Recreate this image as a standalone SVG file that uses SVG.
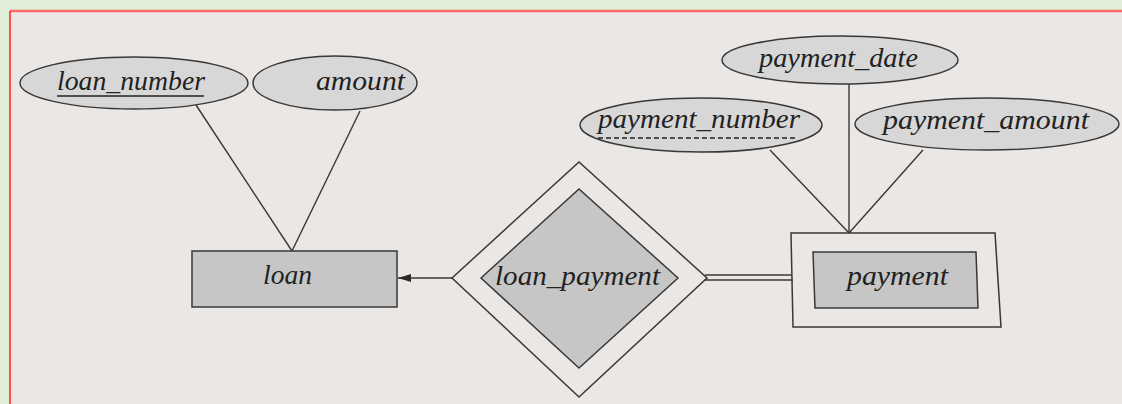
<svg xmlns="http://www.w3.org/2000/svg" width="1122" height="404" viewBox="0 0 1122 404">
  <style>
    .attr { fill: #d8d7d7; stroke: #383838; stroke-width: 1.5; }
    .ent { fill: #c7c6c6; stroke: #383838; stroke-width: 1.5; }
    .weak { fill: none; stroke: #383838; stroke-width: 1.5; }
    .lbl { font-family: "Liberation Serif", "DejaVu Serif", serif; font-style: italic; font-size: 27px; fill: #222222; }
    .conn { stroke: #383838; stroke-width: 1.4; fill: none; }
  </style>
  <defs>
    <marker id="arrow" markerWidth="14" markerHeight="10" refX="13" refY="5" orient="auto" markerUnits="userSpaceOnUse">
      <path d="M0,1 L13,5 L0,9 Z" fill="#2a2a2a"/>
    </marker>
  </defs>
  <rect x="0" y="0" width="1122" height="404" fill="#e0eed8"/>
  <rect x="10" y="11" width="1120" height="400" fill="#eae7e5" stroke="none"/>
  <line x1="10" y1="11" x2="1122" y2="11" stroke="#ff6b6b" stroke-width="2.5"/>
  <line x1="10" y1="11" x2="10" y2="404" stroke="#ff2020" stroke-width="1.5"/>

  <g id="connectors">
    <path class="conn" d="M196,105 L292,251"/>
    <path class="conn" d="M360,111 L292,251"/>
    <path class="conn" d="M849,84 L849,233"/>
    <path class="conn" d="M770,150 L849,233"/>
    <path class="conn" d="M923,150 L849,233"/>
    <path class="conn" d="M452,278 L398,278" marker-end="url(#arrow)"/>
    <path class="conn" d="M705,275 L792,275"/>
    <path class="conn" d="M705,280 L793,280"/>
  </g>

  <g id="loan_number">
    <ellipse class="attr" cx="134" cy="83" rx="114" ry="26"/>
    <text class="lbl" x="57" y="90" textLength="148" lengthAdjust="spacingAndGlyphs">loan_number</text>
    <line x1="57" y1="96" x2="204" y2="96" stroke="#222222" stroke-width="1.3"/>
  </g>

  <g id="amount">
    <ellipse class="attr" cx="335" cy="83" rx="82" ry="27"/>
    <text class="lbl" x="316" y="90" textLength="89" lengthAdjust="spacingAndGlyphs">amount</text>
  </g>

  <g id="loan">
    <rect class="ent" x="192" y="251" width="205" height="56"/>
    <text class="lbl" x="263" y="284" textLength="49" lengthAdjust="spacingAndGlyphs">loan</text>
  </g>

  <g id="loan_payment">
    <polygon class="weak" points="452,278 579,162 707,278 579,397"/>
    <polygon class="ent" points="481,278 579,189 678,278 579,368"/>
    <text class="lbl" x="495" y="285" textLength="165" lengthAdjust="spacingAndGlyphs">loan_payment</text>
  </g>

  <g id="payment">
    <polygon class="weak" points="791,233 995,233 1001,327 793,327"/>
    <polygon class="ent" points="813,252 976,252 978,308 815,308"/>
    <text class="lbl" x="847" y="285" textLength="101" lengthAdjust="spacingAndGlyphs">payment</text>
  </g>

  <g id="payment_date">
    <ellipse class="attr" cx="840" cy="60" rx="118" ry="24"/>
    <text class="lbl" x="759" y="67" textLength="159" lengthAdjust="spacingAndGlyphs">payment_date</text>
  </g>

  <g id="payment_number">
    <ellipse class="attr" cx="701" cy="125" rx="121" ry="27"/>
    <text class="lbl" x="598" y="128" textLength="202" lengthAdjust="spacingAndGlyphs">payment_number</text>
    <line x1="598" y1="138" x2="796" y2="138" stroke="#222222" stroke-width="1.3" stroke-dasharray="5,3"/>
  </g>

  <g id="payment_amount">
    <ellipse class="attr" cx="987" cy="124" rx="132" ry="26"/>
    <text class="lbl" x="883" y="129" textLength="206" lengthAdjust="spacingAndGlyphs">payment_amount</text>
  </g>
</svg>
